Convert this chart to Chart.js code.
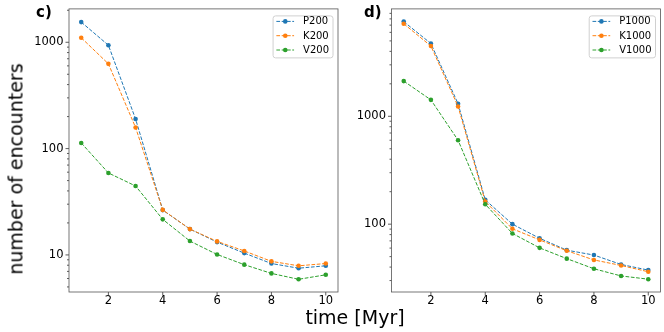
<!DOCTYPE html>
<html><head><meta charset="utf-8">
<script src="https://cdn.jsdelivr.net/npm/chart.js@4"></script>
<style>
html,body{margin:0;padding:0;background:#fff;}
#wrap{position:relative;width:664px;height:332px;overflow:hidden;font-family:'DejaVu Sans',sans-serif;}
canvas{position:absolute;top:0;}
.lbl{position:absolute;white-space:nowrap;color:#000;line-height:1;}
</style></head><body>
<div id="wrap">
<canvas id="c1" width="345" height="310" style="left:0px"></canvas>
<canvas id="c2" width="319" height="310" style="left:345px"></canvas>
<div class="lbl" style="left:36px;top:5px;font-size:15px;font-weight:bold;">c)</div>
<div class="lbl" style="left:364px;top:5px;font-size:15px;font-weight:bold;">d)</div>
<div class="lbl" style="left:16px;top:169px;font-size:19px;transform:translate(-50%,-50%) rotate(-90deg);">number of encounters</div>
<div class="lbl" style="left:355px;top:317px;font-size:19px;transform:translate(-50%,-50%);">time [Myr]</div>
</div>
<script>
const years = [1,2,3,4,5,6,7,8,9,10];
const namesC = ['P200','K200','V200'];
const namesD = ['P1000','K1000','V1000'];
const p200 = [1548, 938, 190, 26.4, 17.5, 13.2, 10.4, 8.3, 7.5, 7.9];
const k200 = [1103, 627, 158, 26.5, 17.5, 13.4, 10.9, 8.7, 7.9, 8.3];
const v200 = [113, 59, 44.5, 21.6, 13.5, 10.1, 8.1, 6.7, 5.9, 6.5];
const p1000 = [7550, 4730, 1306, 168, 100, 74, 57.4, 51.7, 42.3, 37.5];
const k1000 = [7210, 4480, 1234, 162, 90.6, 71.5, 56.7, 46.6, 41.4, 36.2];
const v1000 = [2120, 1420, 600, 153, 82, 60.3, 47.9, 38.6, 33.1, 30.9];
const xTicks = [2,4,6,8,10];
const yMajorC = [10,100,1000];
const yMajorD = [100,1000];
const colors = ['#1f77b4','#ff7f0e','#2ca02c'];
const FONT = 'DejaVu Sans';

function logTicks(min, max) {
  const out = [];
  for (let e = -1; e <= 5; e++) {
    for (let k = 1; k <= 9; k++) {
      const v = Math.round(k * Math.pow(10, e) * 1000) / 1000;
      if (v >= min && v <= max) out.push(v);
    }
  }
  return out;
}

const mplPlugin = {
  id: 'mpl',
  afterDraw(chart) {
    const {ctx, chartArea: a, scales} = chart;
    ctx.save();
    ctx.strokeStyle = '#333';
    ctx.lineWidth = 0.8;
    ctx.setLineDash([]);
    ctx.beginPath();
    scales.x.ticks.forEach(t => {
      const px = scales.x.getPixelForValue(t.value);
      ctx.moveTo(px, a.bottom); ctx.lineTo(px, a.bottom + 3.5);
    });
    scales.y.ticks.forEach(t => {
      const py = scales.y.getPixelForValue(t.value);
      const len = t.major ? 3.5 : 2;
      ctx.moveTo(a.left - len, py); ctx.lineTo(a.left, py);
    });
    ctx.stroke();
    ctx.strokeStyle = '#555';
    ctx.lineWidth = 0.8;
    ctx.strokeRect(a.left, a.top, a.right - a.left, a.bottom - a.top);
    // legend
    const ds = chart.data.datasets;
    ctx.font = '10px "' + FONT + '"';
    const tw = Math.max(...ds.map(d => ctx.measureText(d.label).width));
    const w = 30 + tw + 4, h = 42;
    const x0 = a.right - 5 - w, y0 = a.top + 7;
    ctx.beginPath();
    ctx.roundRect(x0, y0, w, h, 2.5);
    ctx.fillStyle = 'rgba(255,255,255,0.8)';
    ctx.fill();
    ctx.strokeStyle = '#d0d0d0';
    ctx.lineWidth = 1;
    ctx.stroke();
    ds.forEach((d, i) => {
      const cy = y0 + 5.5 + i * 14.3;
      ctx.strokeStyle = d.borderColor;
      ctx.lineWidth = 1;
      ctx.setLineDash([3.7, 1.6]);
      ctx.beginPath();
      ctx.moveTo(x0 + 3.3, cy); ctx.lineTo(x0 + 21, cy);
      ctx.stroke();
      ctx.setLineDash([]);
      ctx.fillStyle = d.borderColor;
      ctx.beginPath();
      ctx.arc(x0 + 12.2, cy, 2.3, 0, Math.PI * 2);
      ctx.fill();
      ctx.fillStyle = '#000';
      ctx.textBaseline = 'middle';
      ctx.textAlign = 'left';
      ctx.fillText(d.label, x0 + 30, cy + 0.5);
    });
    ctx.restore();
  }
};

function makeChart(id, series, names, yMin, yMax, yMajor, yWidth, padRight) {
  const datasets = series.map((s, i) => ({
    label: names[i],
    data: years.map((x, j) => ({x: x, y: s[j]})),
    borderColor: colors[i],
    backgroundColor: colors[i],
    borderWidth: 1,
    borderDash: [3.7, 1.6],
    pointRadius: 2.3,
    pointBorderWidth: 0,
    pointBackgroundColor: colors[i],
    pointHoverRadius: 2.3,
    order: 3 - i,
    tension: 0,
    fill: false
  }));
  const yt = logTicks(yMin, yMax);
  return new Chart(document.getElementById(id), {
    type: 'line',
    data: {datasets},
    plugins: [mplPlugin],
    options: {
      responsive: false,
      animation: false,
      devicePixelRatio: 1,
      layout: {padding: {left: 0, right: padRight, top: 3, bottom: 0}},
      plugins: {legend: {display: false}, tooltip: {enabled: false}},
      scales: {
        x: {
          type: 'linear', min: 0.55, max: 10.45,
          afterBuildTicks: s => { s.ticks = xTicks.map(v => ({value: v})); },
          afterFit: s => { s.height = 18; },
          ticks: {autoSkip: false, maxRotation: 0, padding: -1, color: '#000',
                  font: {family: FONT, size: 11.5}, callback: v => String(v)},
          grid: {display: false, drawTicks: true, tickLength: 3.5},
          border: {display: false}
        },
        y: {
          type: 'logarithmic', min: yMin, max: yMax,
          afterBuildTicks: s => { s.ticks = yt.map(v => ({value: v, major: yMajor.includes(v)})); },
          afterFit: s => { s.width = yWidth; },
          ticks: {autoSkip: false, padding: 2, color: '#000',
                  font: {family: FONT, size: 11.5},
                  callback: v => (yMajor.includes(v) ? String(v) : '')},
          grid: {display: false, drawTicks: true, tickLength: 3.5},
          border: {display: false}
        }
      }
    }
  });
}

makeChart('c1', [p200, k200, v200], namesC, 4.48, 2060, yMajorC, 69, 7);
makeChart('c2', [p1000, k1000, v1000], namesD, 23.5, 9900, yMajorD, 46.5, 3.5);
</script>
</body></html>
